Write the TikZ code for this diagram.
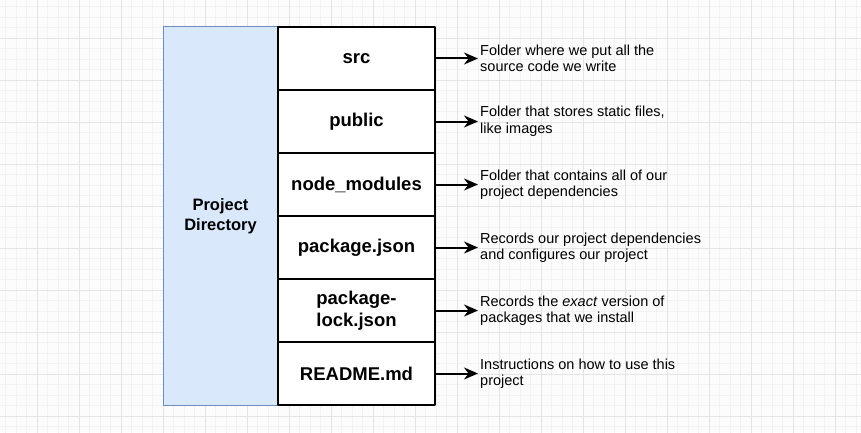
\documentclass[tikz,border=0pt]{standalone}
\usepackage{fontspec}
\setmainfont{Liberation Sans}
\usepackage{xcolor}
\usetikzlibrary{positioning, arrows.meta}
\definecolor{dirblue}{RGB}{218, 232, 252}
\definecolor{dirline}{RGB}{108, 142, 191}
\definecolor{gridminor}{RGB}{242, 242, 242}
\definecolor{gridmajor}{RGB}{228, 228, 228}
\definecolor{paper}{RGB}{252, 252, 252}

\tikzset{
    filebox/.style={draw=black, line width=1.8pt, fill=white, outer sep=0pt, inner sep=0pt,
        minimum width=157pt, minimum height=63pt, align=center,
        font=\bfseries\fontsize{18.5}{22}\selectfont},
    dirbox/.style={draw=dirline, line width=1pt, fill=dirblue, outer sep=0pt, inner sep=0pt,
        minimum width=115pt, minimum height=378pt, align=center,
        font=\bfseries\fontsize{16.5}{20}\selectfont},
    note/.style={inner sep=0pt, align=left, font=\fontsize{14.5}{16.5}\selectfont},
    pointer/.style={->, line width=2pt, shorten >=2pt}
}

\begin{document}
\begin{tikzpicture}[x=1pt, y=1pt, line join=round, >={Stealth[length=14pt, width=12pt]}]
    % Khung và lưới nền
    \useasboundingbox (0,0) rectangle (861,432);
    \clip (0,0) rectangle (861,432);
    \fill[paper] (0,0) rectangle (861,432);
    \draw[gridminor, line width=0.6pt, step=10.5, xshift=5.5, yshift=5.5] (-10.5,-10.5) grid (861,432);
    \draw[gridmajor, line width=0.8pt, step=42, xshift=37, yshift=16] (-42,-42) grid (861,432);

    % Cột thư mục dự án
    \node[dirbox, anchor=north west] (dir) at (163,405) {Project\\Directory};

    % Các tệp bên trong
    \node[filebox, anchor=north west] (src) at (dir.north east) {src};
    \node[filebox, below=0pt of src] (public) {public};
    \node[filebox, below=0pt of public] (modules) {node\_modules};
    \node[filebox, below=0pt of modules] (pkg) {package.json};
    \node[filebox, below=0pt of pkg] (lock) {package-\\lock.json};
    \node[filebox, below=0pt of lock] (readme) {README.md};

    % Ghi chú cho từng tệp
    \node[note, right=45pt of src, anchor=west] (srcnote) {Folder where we put all the\\source code we write};
    \node[note, right=45pt of public, anchor=west] (publicnote) {Folder that stores static files,\\like images};
    \node[note, right=45pt of modules, anchor=west] (modulesnote) {Folder that contains all of our\\project dependencies};
    \node[note, right=45pt of pkg, anchor=west] (pkgnote) {Records our project dependencies\\and configures our project};
    \node[note, right=45pt of lock, anchor=west] (locknote) {Records the \textit{exact} version of\\packages that we install};
    \node[note, right=45pt of readme, anchor=west] (readmenote) {Instructions on how to use this\\project};

    % Mũi tên
    \draw[pointer] (src.east) -- (srcnote.west);
    \draw[pointer] (public.east) -- (publicnote.west);
    \draw[pointer] (modules.east) -- (modulesnote.west);
    \draw[pointer] (pkg.east) -- (pkgnote.west);
    \draw[pointer] (lock.east) -- (locknote.west);
    \draw[pointer] (readme.east) -- (readmenote.west);
\end{tikzpicture}
\end{document}
